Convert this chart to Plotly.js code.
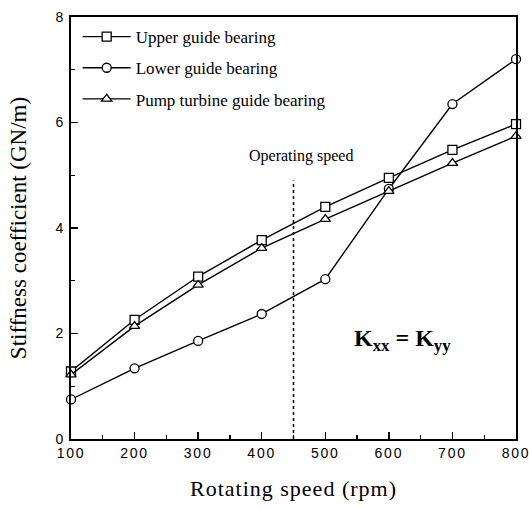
<!DOCTYPE html>
<html><head><meta charset="utf-8">
<script src="https://cdn.plot.ly/plotly-3.0.1.min.js"></script>
<style>
html,body{margin:0;padding:0;background:#fff}
#chart .xtitle{letter-spacing:1px}
#chart .xtick text{letter-spacing:1.8px}
</style>
</head><body>
<div id="chart" style="width:529px;height:508px"></div>
<script>
var speed = [100, 200, 300, 400, 500, 600, 700, 800];
var upperGuide = [1.28, 2.26, 3.08, 3.77, 4.40, 4.95, 5.48, 5.97];
var lowerGuide = [0.75, 1.34, 1.86, 2.37, 3.03, 4.74, 6.35, 7.20];
var pumpTurbine = [1.22, 2.14, 2.92, 3.62, 4.17, 4.70, 5.23, 5.74];
var seriesNames = ['Upper guide bearing', 'Lower guide bearing', 'Pump turbine guide bearing'];
var operatingSpeed = 450;
var operatingLineTop = 4.9;

var serif = 'Liberation Serif, Times New Roman, serif';
var sans = 'Liberation Sans, Arial, sans-serif';

function tr(y, name, sym, grp) {
  return {
    x: speed, y: y, name: name, type: 'scatter', mode: 'lines+markers',
    legendgroup: grp,
    line: {color: '#000', width: 1.4},
    marker: {symbol: sym, size: 9, color: '#fff', line: {color: '#000', width: 1.3}},
    cliponaxis: false
  };
}
var data = [
  {x: [operatingSpeed, operatingSpeed], y: [0, operatingLineTop], mode: 'lines', showlegend: false,
   line: {color: '#000', width: 1.5, dash: 'dot'}, hoverinfo: 'skip'},
  tr(upperGuide, seriesNames[0], 'square', 'a'),
  tr(lowerGuide, seriesNames[1], 'circle', 'b'),
  tr(pumpTurbine, seriesNames[2], 'triangle-up', 'c')
];
var layout = {
  width: 529, height: 508,
  margin: {l: 71, r: 13, t: 17, b: 69},
  paper_bgcolor: '#fff', plot_bgcolor: '#fff',
  showlegend: true,
  legend: {x: 0.015, y: 0.995, xanchor: 'left', yanchor: 'top', bgcolor: 'rgba(0,0,0,0)',
           font: {family: serif, size: 17, color: '#000'}, tracegroupgap: 6, itemwidth: 48},
  xaxis: {
    range: [100, 800], dtick: 100, tick0: 100, ticks: 'inside', ticklen: 7, tickwidth: 1.5, tickcolor: '#000',
    minor: {ticks: 'inside', ticklen: 4, dtick: 50, tickcolor: '#000', tickwidth: 1.2},
    showline: true, linecolor: '#000', linewidth: 1.8, mirror: true, showgrid: false, zeroline: false,
    tickfont: {family: sans, size: 14, color: '#000'},
    title: {text: 'Rotating speed (rpm)', font: {family: serif, size: 22, color: '#000'}, standoff: 21}
  },
  yaxis: {
    range: [0, 8], dtick: 2, ticks: 'inside', ticklen: 7, tickwidth: 1.5, tickcolor: '#000',
    minor: {ticks: 'inside', ticklen: 4, dtick: 1, tickcolor: '#000', tickwidth: 1.2},
    showline: true, linecolor: '#000', linewidth: 1.8, mirror: true, showgrid: false, zeroline: false,
    tickfont: {family: sans, size: 14, color: '#000'}, ticklabelstandoff: 3,
    title: {text: 'Stiffness coefficient (GN/m)', font: {family: serif, size: 23, color: '#000'}, standoff: 22}
  },
  annotations: [
    {x: operatingSpeed, y: 5.2, xref: 'x', yref: 'y', text: 'Operating speed', showarrow: false,
     xanchor: 'center', yanchor: 'bottom', xshift: 7, yshift: -2,
     font: {family: serif, size: 16, color: '#000'}},
    {x: 622, y: 1.88, xref: 'x', yref: 'y', text: '<b>K<sub>xx</sub> = K<sub>yy</sub></b>', showarrow: false,
     font: {family: serif, size: 24, color: '#000'}}
  ]
};
Plotly.newPlot('chart', data, layout, {displayModeBar: false, staticPlot: true});
</script>
</body></html>
